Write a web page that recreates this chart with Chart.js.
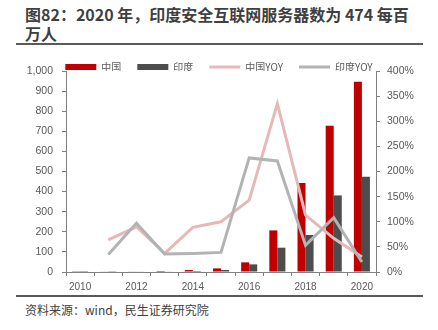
<!DOCTYPE html>
<html>
<head>
<meta charset="utf-8">
<script src="https://cdn.jsdelivr.net/npm/chart.js@4/dist/chart.umd.min.js"></script>
<style>
  body { margin: 0; width: 438px; height: 330px; background: #fff; position: relative; overflow: hidden; }
  #title { position: absolute; left: 25px; top: 5px; width: 400px; font: bold 16px/19px "Noto Sans CJK SC", sans-serif; color: #3f3f3f; }
  #rule1 { position: absolute; left: 16px; top: 43px; width: 407px; height: 2px; background: #5a5a5a; }
  #rule2 { position: absolute; left: 16px; top: 295px; width: 407px; height: 2px; background: #5a5a5a; }
  #source { position: absolute; left: 25px; top: 301px; font: 12px "Noto Sans CJK SC", sans-serif; color: #404040; }
  #wrap { position: absolute; left: 0; top: 46px; width: 438px; height: 248px; }
</style>
</head>
<body>
<div id="title">图82：2020 年，印度安全互联网服务器数为 474 每百<br>万人</div>
<div id="rule1"></div>
<div id="wrap"><canvas id="chartContainer"></canvas></div>
<div id="rule2"></div>
<div id="source">资料来源：wind，民生证券研究院</div>
<script>
const years = ["2010", "2011", "2012", "2013", "2014", "2015", "2016", "2017", "2018", "2019", "2020"];
const chinaServers = [1, 2, 3, 5, 10, 18, 48, 207, 443, 728, 946];
const indiaServers = [0.5, 1, 2, 3, 5, 10, 38, 121, 184, 381, 474];
const chinaYoy = [null, 64, 90, 37, 89, 100, 143, 335, 113, 67, 30];
const indiaYoy = [null, 35, 97, 36, 37, 39, 227, 221, 53, 108, 20];
const leftTicks = [0, 1000, 100];
const rightTicks = [0, 400, 50];

const axisColor = "#808080";
const tickFont = { family: "'Liberation Sans', 'Noto Sans CJK SC', sans-serif", size: 10.5 };

const ctx = document.getElementById("chartContainer");
const chart = new Chart(ctx, {
    type: "bar",
    data: {
        labels: years,
        datasets: [
            {
                label: "中国",
                data: chinaServers,
                backgroundColor: "#c00000",
                borderWidth: 0,
                pointStyle: "rect",
                yAxisID: "y",
                order: 2,
                categoryPercentage: 0.57,
                barPercentage: 1,
            },
            {
                label: "印度",
                data: indiaServers,
                backgroundColor: "#4d4d4d",
                borderWidth: 0,
                pointStyle: "rect",
                yAxisID: "y",
                order: 2,
                categoryPercentage: 0.57,
                barPercentage: 1,
            },
            {
                type: "line",
                label: "中国YOY",
                data: chinaYoy,
                borderColor: "#e6b9b8",
                backgroundColor: "#e6b9b8",
                borderWidth: 3,
                pointRadius: 0,
                pointStyle: "line",
                tension: 0,
                yAxisID: "y1",
                order: 1,
            },
            {
                type: "line",
                label: "印度YOY",
                data: indiaYoy,
                borderColor: "#b3b3b3",
                backgroundColor: "#b3b3b3",
                borderWidth: 3,
                pointRadius: 0,
                pointStyle: "line",
                tension: 0,
                yAxisID: "y1",
                order: 0,
            },
        ],
    },
    options: {
        responsive: true,
        maintainAspectRatio: false,
        animation: false,
        layout: { padding: 0 },
        plugins: {
            tooltip: { enabled: false },
            legend: {
                position: "top",
                maxHeight: 25,
                labels: {
                    usePointStyle: true,
                    pointStyleWidth: 31,
                    boxHeight: 6,
                    padding: 16,
                    color: "#595959",
                    font: { family: "'Noto Sans CJK SC', sans-serif", size: 10 },
                    sort: (a, b) => a.datasetIndex - b.datasetIndex,
                },
            },
        },
        scales: {
            x: {
                offset: true,
                grid: { offset: true, drawOnChartArea: false, drawTicks: true, tickLength: 4, color: axisColor },
                border: { display: true, color: axisColor },
                ticks: {
                    autoSkip: false,
                    maxRotation: 0,
                    padding: 5,
                    color: "#595959",
                    font: { family: tickFont.family, size: 10 },
                    callback: (v, i) => (i % 2 === 0 ? years[i] : ""),
                },
                afterFit: (s) => { s.height = 22; },
            },
            y: {
                position: "left",
                min: leftTicks[0],
                max: leftTicks[1],
                grid: { drawOnChartArea: false, drawTicks: true, tickLength: 4, color: axisColor },
                border: { display: true, color: axisColor },
                ticks: {
                    stepSize: leftTicks[2],
                    padding: 9,
                    color: "#595959",
                    font: tickFont,
                    callback: (v) => v.toLocaleString("en-US"),
                },
                afterFit: (s) => { s.width = 66; },
            },
            y1: {
                position: "right",
                min: rightTicks[0],
                max: rightTicks[1],
                grid: { drawOnChartArea: false, drawTicks: true, tickLength: 4, color: axisColor },
                border: { display: true, color: axisColor },
                ticks: {
                    stepSize: rightTicks[2],
                    padding: 7,
                    color: "#595959",
                    font: tickFont,
                    callback: (v) => v + "%",
                },
                afterFit: (s) => { s.width = 62; },
            },
        },
    },
});
</script>
</body>
</html>
